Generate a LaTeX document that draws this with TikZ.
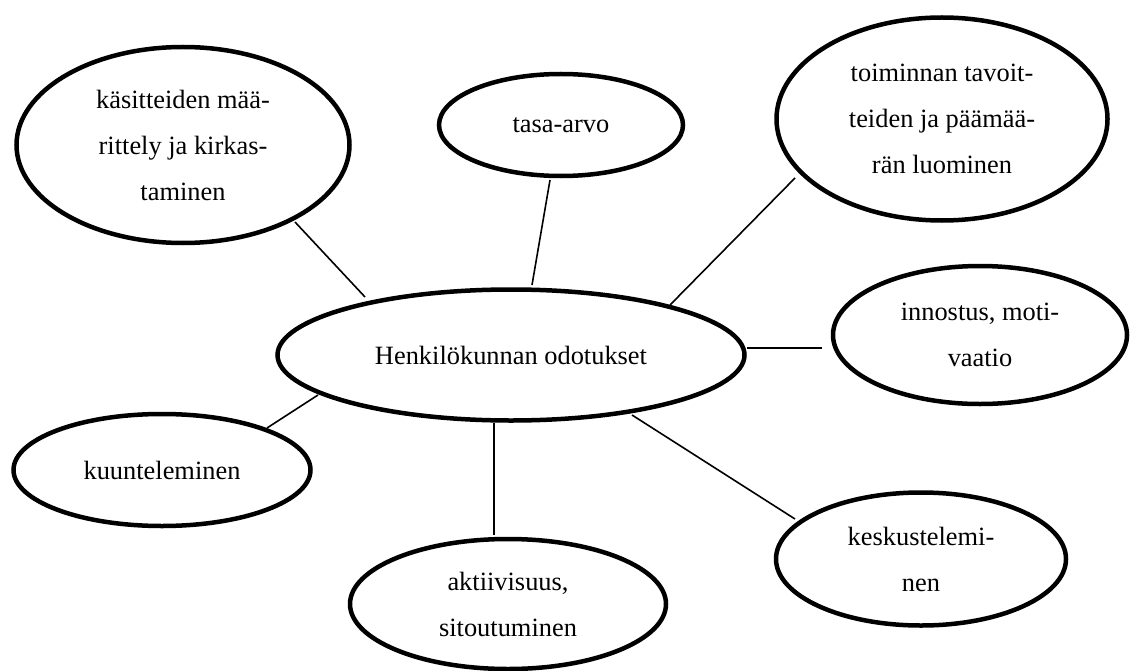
\documentclass[tikz,border=0pt]{standalone}
\usepackage{fontspec}
\setmainfont{Liberation Serif}
\usetikzlibrary{shapes.geometric}
\begin{document}
\begin{tikzpicture}[x=1pt,y=-1pt,
  bubble/.style={ellipse, draw, line width=4.5pt, inner sep=0pt, align=center,
    font=\fontsize{26.4}{46}\selectfont},
  link/.style={line width=1.6pt}]
\useasboundingbox (0,0) rectangle (1131,671);
% ellipses
\node[bubble, minimum width=333pt, minimum height=196pt] (kasit) at (183,145) {käsitteiden mää-\\rittely ja kirkas-\\taminen};
\node[bubble, minimum width=244pt, minimum height=102pt] (tasa) at (561,125) {tasa-arvo};
\node[bubble, minimum width=331pt, minimum height=203pt] (toim) at (942,119) {toiminnan tavoit-\\teiden ja päämää-\\rän luominen};
\node[bubble, minimum width=467pt, minimum height=131pt] (henk) at (511,355) {Henkilökunnan odotukset};
\node[bubble, minimum width=294pt, minimum height=138pt] (inno) at (980,335) {innostus, moti-\\vaatio};
\node[bubble, minimum width=297pt, minimum height=112pt] (kuun) at (162,470) {kuunteleminen};
\node[bubble, minimum width=316pt, minimum height=130pt] (akti) at (508,604) {aktiivisuus,\\sitoutuminen};
\node[bubble, minimum width=290pt, minimum height=133pt] (kesk) at (921,559) {keskustelemi-\\nen};
% connector ends
\coordinate (k1) at (295,222); \coordinate (h1) at (365,297);
\coordinate (t1) at (550,180); \coordinate (h2) at (532,285);
\coordinate (o1) at (795,178); \coordinate (h3) at (670,305);
\coordinate (h4) at (747,348); \coordinate (i1) at (822,348);
\coordinate (u1) at (267,428); \coordinate (h5) at (318,395);
\coordinate (h6) at (494,423); \coordinate (a1) at (494,535);
\coordinate (h7) at (632,415); \coordinate (e1) at (795,519);
% connectors
\draw[link] (k1) -- (h1);
\draw[link] (t1) -- (h2);
\draw[link] (o1) -- (h3);
\draw[link] (h4) -- (i1);
\draw[link] (u1) -- (h5);
\draw[link] (h6) -- (a1);
\draw[link] (h7) -- (e1);
\end{tikzpicture}
\end{document}
